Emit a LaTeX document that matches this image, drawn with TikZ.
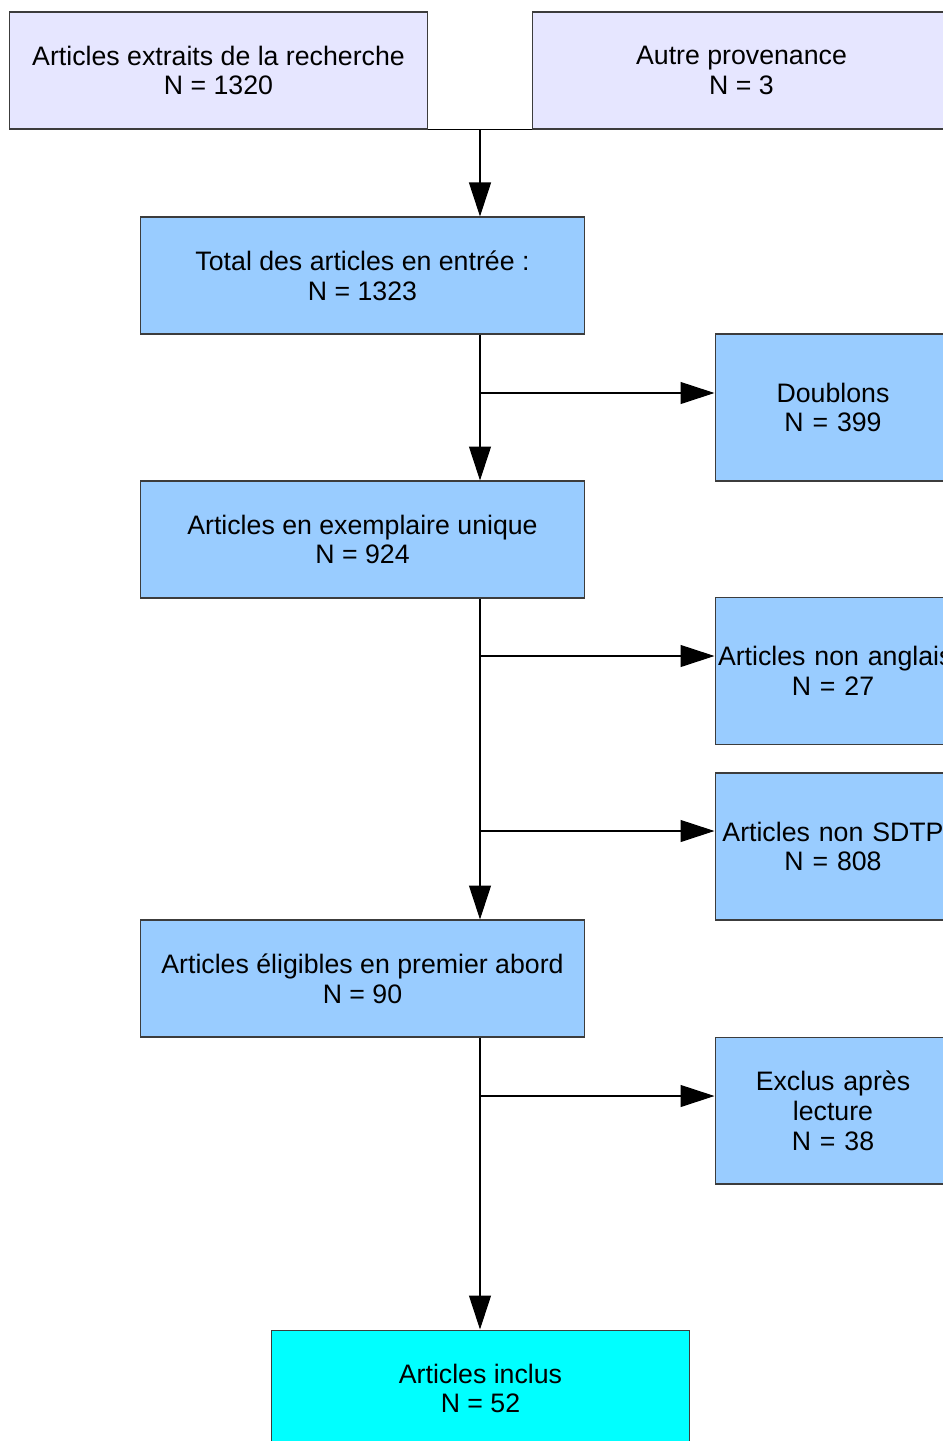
\documentclass[tikz,border=0pt]{standalone}
\usepackage{fontspec}
\setmainfont{Liberation Sans}
\usetikzlibrary{arrows.meta}
\definecolor{srcfill}{HTML}{E6E6FF}
\definecolor{stepfill}{HTML}{99CCFF}
\definecolor{endfill}{HTML}{00FFFF}
\definecolor{boxline}{HTML}{3C3C3C}
\tikzset{
  box/.style={draw=boxline, line width=0.6pt, inner sep=0pt, align=center,
    font=\fontsize{15.2}{17}\selectfont},
  srcbox/.style={box, fill=srcfill, minimum width=8.38cm, minimum height=2.34cm},
  mainbox/.style={box, fill=stepfill, minimum width=8.9cm, minimum height=2.34cm},
  sidebox/.style={box, fill=stepfill, minimum width=4.72cm, minimum height=2.94cm, text width=4.6cm},
  endbox/.style={box, fill=endfill, minimum width=8.38cm, minimum height=2.34cm},
  flow/.style={line width=0.6pt, -{Triangle[length=0.68cm, width=0.44cm]}},
}
\begin{document}
\begin{tikzpicture}[x=0.02cm, y=-0.02cm]
\useasboundingbox (0,0) rectangle (943,1441);
\clip (0,0) rectangle (943,1441);

% sources
\node[srcbox] (search) at (218.5,70.5) {Articles extraits de la recherche\\N = 1320};
\node[srcbox] (other) at (741.5,70.5) {Autre provenance\\N = 3};

% main column
\node[mainbox] (total) at (362.5,275.5) {Total des articles en entrée :\\N = 1323};
\node[mainbox] (unique) at (362.5,539.5) {Articles en exemplaire unique\\N = 924};
\node[mainbox] (eligible) at (362.5,978.5) {Articles éligibles en premier abord\\N = 90};
\node[endbox] (included) at (480.5,1388.5) {Articles inclus\\N = 52};

% exclusions
\node[sidebox] (doubles) at (833,407.5) {Doublons\\N = 399};
\node[sidebox] (nonenglish) at (833,671) {\mbox{Articles non anglais}\\N = 27};
\node[sidebox] (nonsdtp) at (833,846.5) {Articles non SDTP\\N = 808};
\node[sidebox] (excluded) at (833,1110.5) {Exclus après\\lecture\\N = 38};

% merge of the sources
\coordinate (join) at (480,129);
\draw[line width=0.6pt] (search.south east) -- (other.south west);
\draw[flow] (join) -- (join |- total.north);

% downward flow
\draw[flow] (total.south -| join) -- (unique.north -| join);
\draw[flow] (unique.south -| join) -- (eligible.north -| join);
\draw[flow] (eligible.south -| join) -- (included.north -| join);

% branches to the right
\coordinate (fork1) at (480,393);
\coordinate (fork2) at (480,656);
\coordinate (fork3) at (480,831);
\coordinate (fork4) at (480,1096);
\draw[flow] (fork1) -- (fork1 -| doubles.west);
\draw[flow] (fork2) -- (fork2 -| nonenglish.west);
\draw[flow] (fork3) -- (fork3 -| nonsdtp.west);
\draw[flow] (fork4) -- (fork4 -| excluded.west);
\end{tikzpicture}
\end{document}
